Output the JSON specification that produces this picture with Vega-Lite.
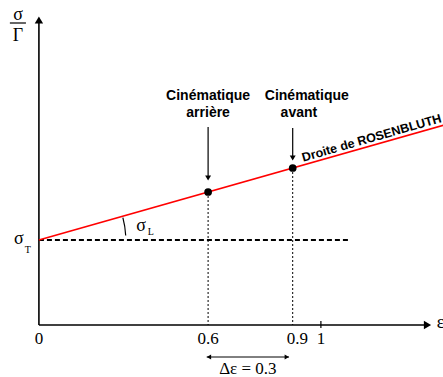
{
  "$schema": "https://vega.github.io/schema/vega-lite/v6.json",
  "width": 443,
  "height": 377,
  "autosize": {"type": "none"},
  "padding": 0,
  "background": "white",
  "config": {"view": {"stroke": null}},
  "datasets": {
    "axes": [{"x": 0, "y": 0, "x2": 1.37, "y2": 0}, {"x": 0, "y": 0, "x2": 0, "y2": 302}],
    "tick": [{"x": 1, "y": -3, "x2": 1, "y2": 4}],
    "xhead": [{"x": 1.378, "y": 0}],
    "yhead": [{"x": 0, "y": 305}],
    "sigmaT": [{"x": 0, "y": 85, "x2": 1.10, "y2": 85}],
    "rosenbluth": [{"x": 0, "y": 85, "x2": 1.45, "y2": 201}],
    "dotted": [{"x": 0.6, "y": 133, "x2": 0.6, "y2": 0}, {"x": 0.9, "y": 157, "x2": 0.9, "y2": 0}],
    "measures": [{"x": 0.6, "y": 133}, {"x": 0.9, "y": 157}],
    "arrows": [{"x": 0.6, "y": 198, "x2": 0.6, "y2": 146}, {"x": 0.9, "y": 197, "x2": 0.9, "y2": 166}],
    "arrowtips": [{"x": 0.6, "y": 147}, {"x": 0.9, "y": 167}],
    "labels": [
      {"x": 0.6, "y": 229, "t": "Cinématique"},
      {"x": 0.6, "y": 212, "t": "arrière"},
      {"x": 0.95, "y": 229, "t": "Cinématique"},
      {"x": 0.922, "y": 212, "t": "avant"}
    ],
    "droite": [{"x": 1.18, "y": 187, "t": "Droite de ROSENBLUTH"}],
    "ticklabels": [
      {"x": 0, "y": -14, "t": "0"},
      {"x": 0.6, "y": -14, "t": "0.6"},
      {"x": 0.917, "y": -14, "t": "0.9"},
      {"x": 1, "y": -14, "t": "1"}
    ],
    "delta": [{"x": 0.595, "y": -32, "x2": 0.887, "y2": -32}],
    "deltaL": [{"x": 0.603, "y": -32}],
    "deltaR": [{"x": 0.879, "y": -32}],
    "deltatext": [{"x": 0.741, "y": -44, "t": "Δε = 0.3"}],
    "bigsym": [
      {"x": -0.071, "y": 86, "t": "σ"},
      {"x": 0.362, "y": 99, "t": "σ"},
      {"x": -0.074, "y": 310, "t": "σ"},
      {"x": -0.074, "y": 289, "t": "Γ"}
    ],
    "subs": [
      {"x": -0.039, "y": 75, "t": "T"},
      {"x": 0.397, "y": 93, "t": "L"}
    ],
    "eps": [{"x": 1.411, "y": 2, "t": "ε"}],
    "frac": [{"x": -0.103, "y": 302, "x2": -0.046, "y2": 302}],
    "arcc": [{"x": 0, "y": 85}]
  },
  "encoding": {
    "x": {"field": "x", "type": "quantitative", "scale": {"domain": [-0.138, 1.433], "nice": false, "zero": false}, "axis": null},
    "y": {"field": "y", "type": "quantitative", "scale": {"domain": [-52, 325], "nice": false, "zero": false}, "axis": null}
  },
  "layer": [
    {"data": {"name": "dotted"}, "mark": {"type": "rule", "color": "black", "strokeWidth": 1, "strokeDash": [2, 2]}, "encoding": {"x2": {"field": "x2"}, "y2": {"field": "y2"}}},
    {"data": {"name": "sigmaT"}, "mark": {"type": "rule", "color": "black", "strokeWidth": 2, "strokeDash": [5, 3]}, "encoding": {"x2": {"field": "x2"}, "y2": {"field": "y2"}}},
    {"data": {"name": "axes"}, "mark": {"type": "rule", "color": "black", "strokeWidth": 1.6}, "encoding": {"x2": {"field": "x2"}, "y2": {"field": "y2"}}},
    {"data": {"name": "tick"}, "mark": {"type": "rule", "color": "black", "strokeWidth": 1.2}, "encoding": {"x2": {"field": "x2"}, "y2": {"field": "y2"}}},
    {"data": {"name": "xhead"}, "mark": {"type": "point", "shape": "triangle-right", "filled": true, "color": "black", "opacity": 1, "size": 70}},
    {"data": {"name": "yhead"}, "mark": {"type": "point", "shape": "triangle-up", "filled": true, "color": "black", "opacity": 1, "size": 70}},
    {"data": {"name": "rosenbluth"}, "mark": {"type": "rule", "color": "#ff0000", "strokeWidth": 1.6}, "encoding": {"x2": {"field": "x2"}, "y2": {"field": "y2"}}},
    {"data": {"name": "measures"}, "mark": {"type": "point", "shape": "circle", "filled": true, "color": "black", "opacity": 1, "size": 60}},
    {"data": {"name": "arrows"}, "mark": {"type": "rule", "color": "black", "strokeWidth": 1.2}, "encoding": {"x2": {"field": "x2"}, "y2": {"field": "y2"}}},
    {"data": {"name": "arrowtips"}, "mark": {"type": "point", "shape": "triangle-down", "filled": true, "color": "black", "opacity": 1, "size": 35}},
    {"data": {"name": "labels"}, "mark": {"type": "text", "font": "Liberation Sans", "fontWeight": "bold", "fontSize": 14, "align": "center", "baseline": "middle", "color": "black"}, "encoding": {"text": {"field": "t"}}},
    {"data": {"name": "droite"}, "mark": {"type": "text", "font": "Liberation Sans", "fontWeight": "bold", "fontSize": 12.5, "align": "center", "baseline": "middle", "angle": -16, "color": "black"}, "encoding": {"text": {"field": "t"}}},
    {"data": {"name": "ticklabels"}, "mark": {"type": "text", "font": "Liberation Serif", "fontSize": 17, "align": "center", "baseline": "middle", "color": "black"}, "encoding": {"text": {"field": "t"}}},
    {"data": {"name": "delta"}, "mark": {"type": "rule", "color": "black", "strokeWidth": 1}, "encoding": {"x2": {"field": "x2"}, "y2": {"field": "y2"}}},
    {"data": {"name": "deltaL"}, "mark": {"type": "point", "shape": "triangle-left", "filled": true, "color": "black", "opacity": 1, "size": 25}},
    {"data": {"name": "deltaR"}, "mark": {"type": "point", "shape": "triangle-right", "filled": true, "color": "black", "opacity": 1, "size": 25}},
    {"data": {"name": "deltatext"}, "mark": {"type": "text", "font": "Liberation Serif", "fontSize": 17, "align": "center", "baseline": "middle", "color": "black"}, "encoding": {"text": {"field": "t"}}},
    {"data": {"name": "bigsym"}, "mark": {"type": "text", "font": "Liberation Serif", "fontSize": 18, "align": "center", "baseline": "middle", "color": "black"}, "encoding": {"text": {"field": "t"}}},
    {"data": {"name": "subs"}, "mark": {"type": "text", "font": "Liberation Serif", "fontSize": 10, "align": "center", "baseline": "middle", "color": "black"}, "encoding": {"text": {"field": "t"}}},
    {"data": {"name": "eps"}, "mark": {"type": "text", "font": "Liberation Serif", "fontSize": 18, "align": "left", "baseline": "middle", "color": "black"}, "encoding": {"text": {"field": "t"}}},
    {"data": {"name": "frac"}, "mark": {"type": "rule", "color": "black", "strokeWidth": 1.2}, "encoding": {"x2": {"field": "x2"}, "y2": {"field": "y2"}}},
    {"data": {"name": "arcc"}, "mark": {"type": "arc", "theta": 1.31, "theta2": 1.52, "radius": 87.5, "radius2": 86.3, "color": "black"}}
  ]
}
